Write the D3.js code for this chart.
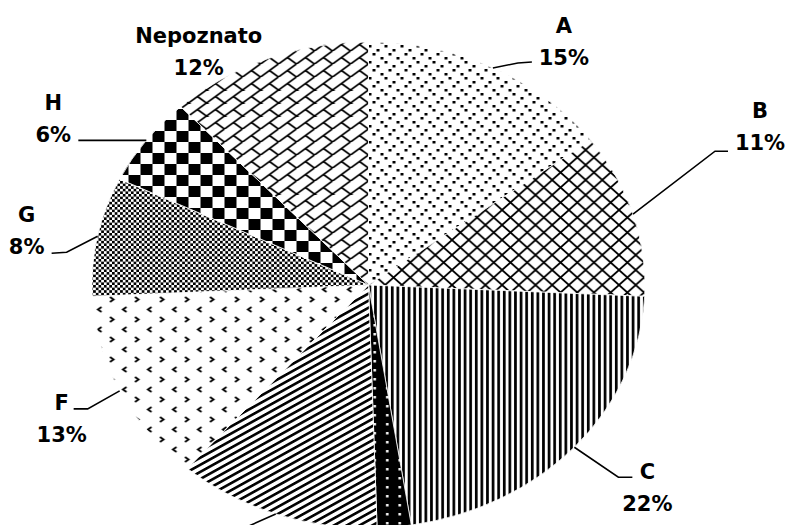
<!DOCTYPE html>
<html>
<head>
<meta charset="utf-8">
<script src="https://cdn.jsdelivr.net/npm/d3@7"></script>
<style>
  body { margin: 0; background: #fff; overflow: hidden; }
  .lbl { font-family: "DejaVu Sans", Verdana, sans-serif; font-weight: bold; font-size: 21px; fill: #000; }
</style>
</head>
<body>
<script>
// slices, clockwise from 12 o'clock
const categories = ["A", "B", "C", "D", "E", "F", "G", "H", "Nepoznato"];
const shares = [15, 11, 22, 2, 12, 13, 8, 6, 12];
const patternIds = ["dots", "lattice", "vstripes", "blackdots", "diag", "divot", "smallcheck", "bigcheck", "brick"];

const width = 789, height = 525;
const cx = 368.5, cy = 285, rx = 276.5, ry = 243;
const k = ry / rx;

// where each label sits relative to the slice's rim point
// (D and E labels fall below the visible area, only E's leader shows)
const labelPlace = {
  A: { text: [71, -35], leader: [[25, -5], [39, -6]] },
  B: { text: [127, -96], leader: [[82, -63], [95, -63]] },
  C: { text: [73, 32], leader: [[44, 30], [58, 30]] },
  D: { text: null, leader: [] },
  E: { text: null, leader: [[-40, 18], [-54, 18]] },
  F: { text: [-58, 19], leader: [[-32, 18], [-46, 18]] },
  G: { text: [-71, -14], leader: [[-31, 16], [-46, 17]] },
  H: { text: [-93, -30], leader: [[-68, 0]] },
  Nepoznato: { text: [-69, -16], leader: [] }
};

const svg = d3.select("body").append("svg")
    .attr("width", width)
    .attr("height", height);
const defs = svg.append("defs");

function pat(id, w, h, bg, draw, extra) {
  const p = defs.append("pattern")
      .attr("id", id)
      .attr("patternUnits", "userSpaceOnUse")
      .attr("width", w)
      .attr("height", h)
      .attr("patternTransform", "scale(" + k + ",1)" + (extra || ""));
  p.append("rect").attr("width", w).attr("height", h).attr("fill", bg);
  draw(p, w, h);
}

function diagLines(p, w, h, dir, sw) {
  let d = "";
  for (let j = -1; j <= 1; j++) {
    if (dir > 0) d += "M" + (j * w) + "," + h + "L" + ((j + 1) * w) + ",0";
    else d += "M" + (j * w) + ",0L" + ((j + 1) * w) + "," + h;
  }
  p.append("path").attr("d", d).attr("stroke", "#000").attr("stroke-width", sw).attr("fill", "none");
}

pat("dots", 16, 16, "#fff", function(p) {
  [[0, 0], [8, 4], [4, 8], [12, 12]].forEach(function(q) {
    p.append("rect").attr("x", q[0]).attr("y", q[1]).attr("width", 3).attr("height", 2.5).attr("fill", "#000");
  });
});
pat("lattice", 16.7, 15, "#fff", function(p, w, h) {
  diagLines(p, w, h, 1, 1.8);
  diagLines(p, w, h, -1, 1.8);
});
pat("vstripes", 5.6, 5, "#fff", function(p) {
  p.append("rect").attr("width", 2.7).attr("height", 5).attr("fill", "#000");
});
pat("blackdots", 12.5, 9, "#000", function(p) {
  p.append("rect").attr("x", 5).attr("y", 3).attr("width", 2.5).attr("height", 2.5).attr("fill", "#fff");
});
pat("diag", 10, 6.2, "#fff", function(p) {
  p.append("rect").attr("width", 10).attr("height", 2.6).attr("fill", "#000");
}, " rotate(-29)");
pat("divot", 25, 20, "#fff", function(p) {
  p.append("path").attr("d", "M8,2L4.5,4.5L8,7M16.5,12L20,14.5L16.5,17")
      .attr("stroke", "#000").attr("stroke-width", 1.9).attr("fill", "none");
});
pat("smallcheck", 5.4, 5.2, "#fff", function(p) {
  p.append("rect").attr("width", 2.7).attr("height", 2.6).attr("fill", "#000");
  p.append("rect").attr("x", 2.7).attr("y", 2.6).attr("width", 2.7).attr("height", 2.6).attr("fill", "#000");
});
pat("bigcheck", 24, 22, "#fff", function(p) {
  p.append("rect").attr("width", 12).attr("height", 11).attr("fill", "#000");
  p.append("rect").attr("x", 12).attr("y", 11).attr("width", 12).attr("height", 11).attr("fill", "#000");
});
pat("brick", 18, 13, "#fff", function(p, w, h) {
  diagLines(p, w, h, 1, 1.8);
  p.append("path").attr("d", "M" + w / 2 + "," + h / 2 + "L" + w + "," + h + "M" + (-w / 2) + "," + h / 2 + "L0," + h)
      .attr("stroke", "#000").attr("stroke-width", 1.8);
});

const data = categories.map(function(c, i) {
  return { name: c, value: shares[i], fill: patternIds[i] };
});

const pie = d3.pie().sort(null).value(function(d) { return d.value; });
const arcs = pie(data);
const arc = d3.arc().innerRadius(0).outerRadius(ry);

const g = svg.append("g")
    .attr("transform", "translate(" + cx + "," + cy + ") scale(" + (rx / ry) + ",1)");

g.selectAll("path")
  .data(arcs)
  .enter().append("path")
    .attr("d", arc)
    .attr("fill", function(d) { return "url(#" + d.data.fill + ")"; })
    .attr("stroke", "#fff")
    .attr("stroke-width", 0.8)
    .attr("vector-effect", "non-scaling-stroke");

// labels with leader lines
const line = d3.line();
arcs.forEach(function(d) {
  const a = (d.startAngle + d.endAngle) / 2;
  const ex = cx + rx * Math.sin(a), ey = cy - ry * Math.cos(a);
  const place = labelPlace[d.data.name];
  if (place.leader.length) {
    const pts = [[ex, ey]].concat(place.leader.map(function(q) { return [ex + q[0], ey + q[1]]; }));
    svg.append("path")
        .attr("d", line(pts))
        .attr("fill", "none")
        .attr("stroke", "#000")
        .attr("stroke-width", 1.6);
  }
  if (!place.text) return;
  const tx = ex + place.text[0], ty = ey + place.text[1];
  const t = svg.append("text")
      .attr("class", "lbl")
      .attr("text-anchor", "middle")
      .attr("x", tx)
      .attr("y", ty);
  t.append("tspan").attr("x", tx).text(d.data.name);
  t.append("tspan").attr("x", tx).attr("dy", 32).text(d.data.value + "%");
});
</script>
</body>
</html>
